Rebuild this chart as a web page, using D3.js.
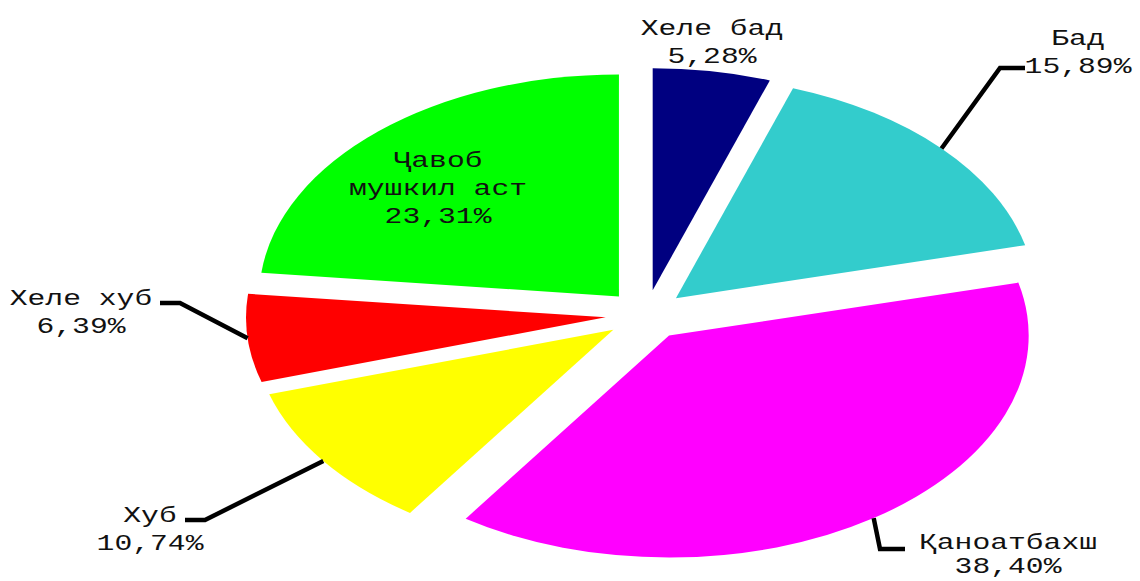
<!DOCTYPE html>
<html>
<head>
<meta charset="utf-8">
<script src="https://cdn.jsdelivr.net/npm/d3@7"></script>
<style>
  body { margin: 0; background: #fff; }
  svg { display: block; }
  text { font-family: "Courier New", "Liberation Mono", "DejaVu Sans Mono", monospace; }
</style>
</head>
<body>
<script>
// data
var categories = ["Хеле бад", "Бад", "Қаноатбахш", "Хуб", "Хеле хуб", "Ҷавоб мушкил аст"];
var values = [5.28, 15.89, 38.40, 10.74, 6.39, 23.31];
var colours = ["#000080", "#33cccc", "#ff00ff", "#ffff00", "#ff0000", "#00ff00"];
// label text split into lines (the percent is added as last line)
var labelLines = [
    ["Хеле бад"],
    ["Бад"],
    ["Қаноатбахш"],
    ["Хуб"],
    ["Хеле хуб"],
    ["Ҷавоб", "мушкил аст"]
];

// dimensions
var width = 1140;
var height = 581;

var cx = 646, cy = 315;
var sx = 1.62;          // the chart is stretched horizontally
var radius = 222;
var explode = 25;

// label layout: centre x, first baseline, line gap, leader elbow and end (screen px)
var labelLayout = [
    { x: 712, y: 35, gap: 28, leader: null },
    { x: 1078, y: 45, gap: 28, leader: [[1000, 68], [1025, 68]] },
    { x: 1008, y: 549, gap: 24, leader: [[880, 549], [905, 549]] },
    { x: 150, y: 522, gap: 28, leader: [[205, 520], [185, 520]] },
    { x: 81, y: 305, gap: 28, leader: [[180, 303], [160, 303]] },
    { x: 438, y: 167, gap: 28, leader: null }
];

var svg = d3.select("body")
    .append("svg")
    .attr("width", width)
    .attr("height", height);

var pie = d3.pie()
    .sort(null)
    .value(function(d) { return d; });

var arc = d3.arc()
    .innerRadius(0)
    .outerRadius(radius);

var arcs = pie(values);

function midAngle(d) {
    return (d.startAngle + d.endAngle) / 2;
}

// offset of an exploded slice, in unscaled units
function offset(d) {
    var a = midAngle(d);
    return [explode * Math.sin(a), -explode * Math.cos(a)];
}

var g = svg.append("g")
    .attr("transform", "translate(" + cx + "," + cy + ") scale(" + sx + ",1)");

g.selectAll("path.slice")
    .data(arcs)
    .enter()
    .append("path")
    .attr("class", "slice")
    .attr("d", arc)
    .attr("fill", function(d, i) { return colours[i]; })
    .attr("transform", function(d) {
        var o = offset(d);
        return "translate(" + o[0] + "," + o[1] + ")";
    });

// leader lines, starting on the slice edge at its middle angle
var line = d3.line();
arcs.forEach(function(d, i) {
    var lay = labelLayout[i];
    if (!lay.leader) return;
    var o = offset(d);
    var a = midAngle(d);
    var start = [
        cx + sx * (o[0] + radius * Math.sin(a)),
        cy + o[1] - radius * Math.cos(a)
    ];
    svg.append("path")
        .attr("d", line([start].concat(lay.leader)))
        .attr("fill", "none")
        .attr("stroke", "#000")
        .attr("stroke-width", 4.5);
});

// labels
var fmt = function(v) { return d3.format(".2f")(v).replace(".", ",") + "%"; };

arcs.forEach(function(d, i) {
    var lay = labelLayout[i];
    var lines = labelLines[i].concat([fmt(values[i])]);
    var t = svg.append("text")
        .attr("transform", "translate(" + lay.x + "," + lay.y + ") scale(1.32,1)")
        .attr("text-anchor", "middle")
        .attr("font-size", 22.5)
        .attr("fill", "#111");
    lines.forEach(function(s, k) {
        t.append("tspan")
            .attr("x", 0)
            .attr("y", k * lay.gap)
            .text(s);
    });
});
</script>
</body>
</html>
